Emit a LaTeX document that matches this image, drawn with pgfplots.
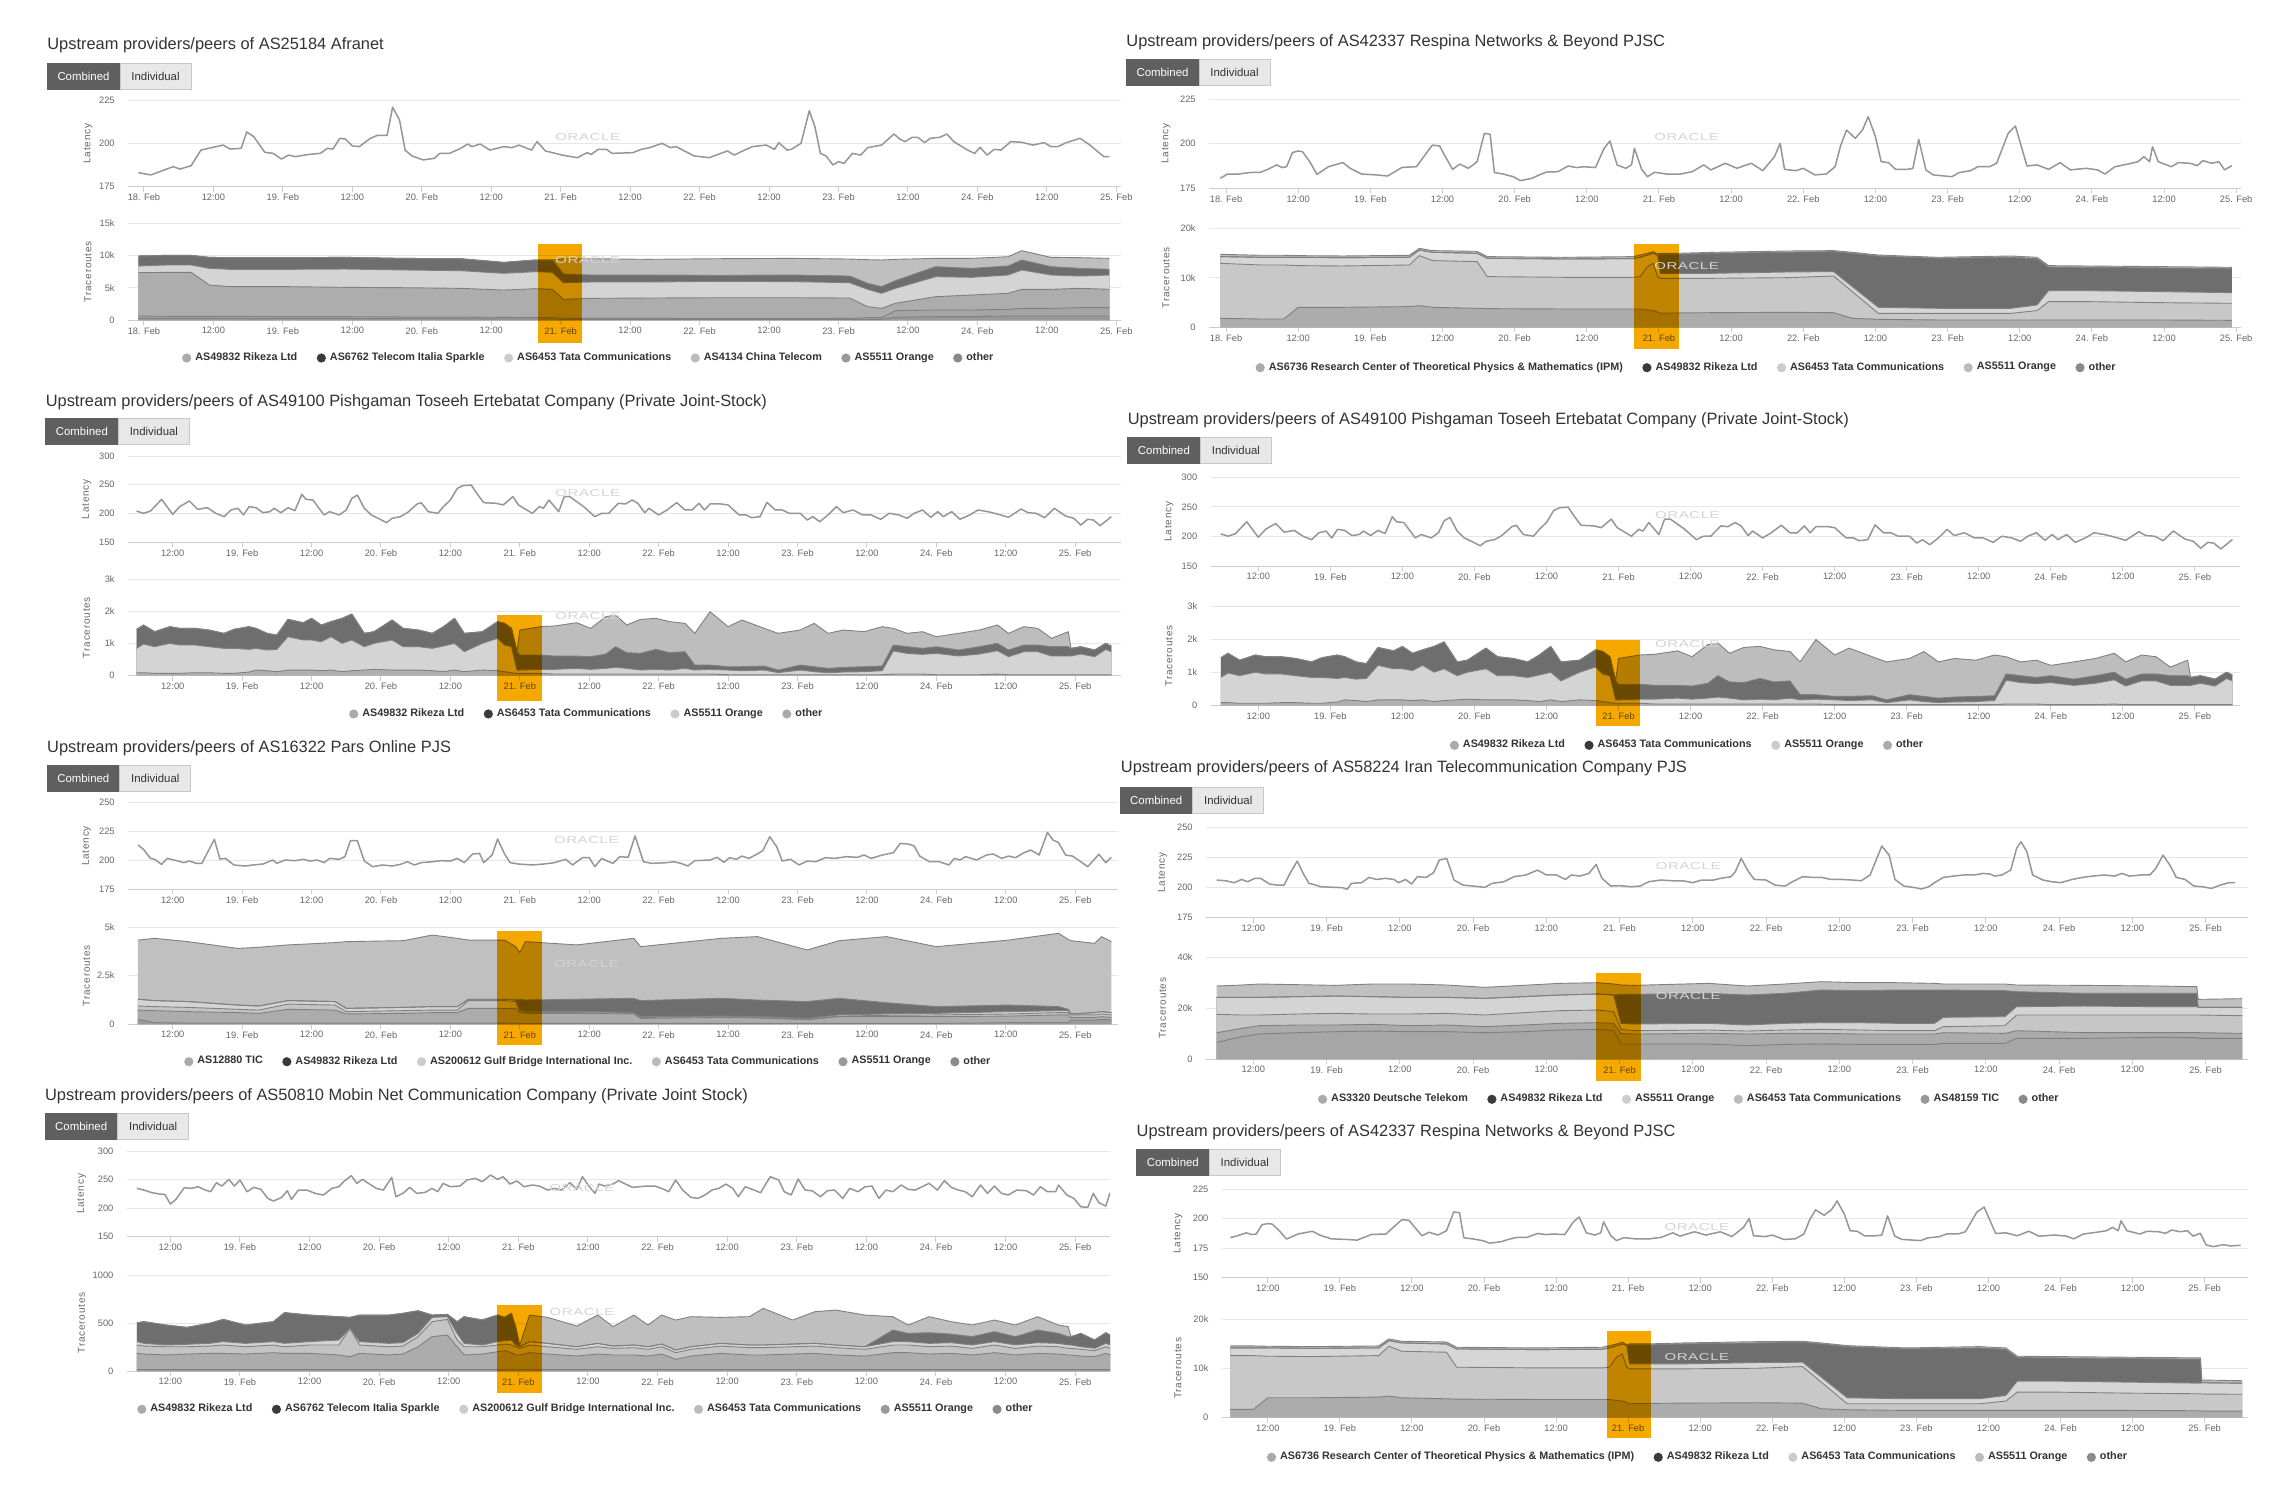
\documentclass[border=0pt]{standalone}
\usepackage{fontspec}
\setmainfont{Liberation Sans}
\newfontfamily\axfam{Liberation Sans}[LetterSpace=8]
\newfontfamily\orfam{Liberation Sans}[FakeStretch=1.5,LetterSpace=6]
\usepackage{pgfplots}
\pgfplotsset{compat=1.18}
\usepackage{pgfplotstable}

\definecolor{labc}{RGB}{102,102,102}
\definecolor{axisc}{RGB}{204,204,204}
\definecolor{gridc}{RGB}{230,230,230}
\definecolor{latc}{RGB}{150,150,150}
\definecolor{blc}{RGB}{128,128,128}
\definecolor{hlc}{RGB}{245,169,0}
\definecolor{orc}{RGB}{212,212,212}
\definecolor{legc}{RGB}{51,51,51}
\definecolor{ttlc}{RGB}{51,51,51}
\definecolor{btnd}{RGB}{95,95,95}
\definecolor{btnl}{RGB}{232,232,232}
\definecolor{btnb}{RGB}{200,200,200}
\definecolor{g6e}{RGB}{110,110,110}
\definecolor{gbf}{RGB}{191,191,191}
\definecolor{gbd}{RGB}{189,189,189}
\definecolor{gc0}{RGB}{192,192,192}
\definecolor{gd4}{RGB}{212,212,212}
\definecolor{gd6}{RGB}{214,214,214}
\definecolor{gad}{RGB}{173,173,173}
\definecolor{ga4}{RGB}{164,164,164}
\definecolor{g99}{RGB}{153,153,153}
\definecolor{gc8}{RGB}{200,200,200}
\definecolor{gac}{RGB}{172,172,172}
\definecolor{gb0}{RGB}{176,176,176}
\definecolor{gc4}{RGB}{196,196,196}
\definecolor{gc6}{RGB}{198,198,198}
\definecolor{gab}{RGB}{171,171,171}
\definecolor{ga6}{RGB}{166,166,166}
\definecolor{g9a}{RGB}{154,154,154}
\definecolor{mk1}{RGB}{170,170,170}
\definecolor{mk2}{RGB}{58,58,58}
\definecolor{mk3}{RGB}{204,204,204}
\definecolor{mk4}{RGB}{187,187,187}
\definecolor{mk5}{RGB}{153,153,153}
\definecolor{mk6}{RGB}{138,138,138}

\newcommand\tickf{\fontsize{4.65pt}{5.5pt}\selectfont}
\newcommand\axf{\axfam\fontsize{5pt}{6pt}\selectfont}
\newcommand\legf{\bfseries\fontsize{5.4pt}{6.2pt}\selectfont}
\newcommand\ttlf{\fontsize{8.2pt}{9.5pt}\selectfont}
\newcommand\btnf{\fontsize{5.7pt}{6.5pt}\selectfont}
\newcommand\orf{\orfam\fontsize{5pt}{6pt}\selectfont}
\newcommand\amp{\char38\relax}

\pgfplotsset{
 legend image code/.code={\fill[#1,draw=none] (0pt,0pt) circle (2.3pt);},
 pan/.style={
   scale only axis, anchor=north west,
   axis x line*=bottom, axis y line*=left,
   x axis line style={draw=axisc, line width=0.5pt, -},
   y axis line style={draw=none},
   ymajorgrids, major grid style={draw=gridc, line width=0.5pt},
   tick align=outside, major tick length=2.5pt,
   xtick style={draw=axisc, line width=0.5pt},
   ytick style={draw=none},
   tick label style={font=\tickf, text=labc},
   xticklabel style={inner sep=1pt},
   yticklabel style={inner sep=1pt, xshift=-3pt},
   every axis y label/.style={rotate=90, anchor=center, font=\axf, text=labc},
   /pgf/number format/assume math mode=true,
 },
 ylabx/.style={every axis y label/.append style={at={(axis description cs:#1,0.5)}}},
 trax/.style={pan, clip=false, ymin=0,
   legend style={draw=none, fill=none, anchor=center, legend columns=-1, font=\legf, text=legc,
     inner sep=0pt, /tikz/every even column/.append style={column sep=7.7pt}},
 },
 days1/.style={xtick={0,0.5,1,1.5,2,2.5,3,3.5,4,4.5,5,5.5,6,6.5,7},
   xticklabels={18. Feb,12:00,19. Feb,12:00,20. Feb,12:00,21. Feb,12:00,22. Feb,12:00,23. Feb,12:00,24. Feb,12:00,25. Feb}},
 days2/.style={xtick={0.5,1,1.5,2,2.5,3,3.5,4,4.5,5,5.5,6,6.5,7},
   xticklabels={12:00,19. Feb,12:00,20. Feb,12:00,21. Feb,12:00,22. Feb,12:00,23. Feb,12:00,24. Feb,12:00,25. Feb}},
 latline/.style={draw=latc, line width=0.75pt, line join=round, mark=none},
 bline/.style={draw=blc, line width=0.45pt, line join=round, mark=none},
}
\tikzset{
 hl/.style={fill=hlc, blend mode=multiply},
 oracle/.style={font=\orf, text=orc, inner sep=0pt},
}
\newcommand\ar[3]{\addplot[fill=#3,draw=none,forget plot] table[x=x,y=#2]{#1}\closedcycle;}
\newcommand\bl[2]{\addplot[bline,forget plot] table[x=x,y=#2]{#1};}
\newcommand\btns[2]{%
 \begin{scope}[xshift=#1*0.5pt, yshift=-#2*0.5pt, x=0.5pt, y=-0.5pt]
  \fill[btnd] (0,0) rectangle (73,26.5);
  \fill[btnl] (73,0) rectangle (144,26.5);
  \draw[btnb, line width=0.5pt] (73,0) rectangle (144,26.5);
  \node[font=\btnf, text=white, inner sep=0pt] at (36.5,13.5) {Combined};
  \node[font=\btnf, text=legc, inner sep=0pt] at (108.5,13.5) {Individual};
 \end{scope}}
\newcommand\ttl[3]{\node[anchor=base west, inner sep=0pt, font=\ttlf, text=ttlc] at (#1,#2) {#3};}

% ---------------- data ----------------
\pgfplotstableread{
x y
-0.04 183.1
0.05 181.8
0.21 186.6
0.26 185.2
0.34 187.2
0.41 196.2
0.52 198.2
0.57 199.1
0.62 196.8
0.70 197.2
0.74 206.7
0.79 204.0
0.87 194.9
0.93 194.3
0.99 191.0
1.04 193.3
1.09 192.4
1.19 193.7
1.27 194.3
1.32 197.2
1.36 196.8
1.41 203.0
1.45 202.6
1.50 198.6
1.55 198.2
1.63 203.0
1.68 204.7
1.75 204.7
1.79 221.0
1.84 213.6
1.88 196.2
1.93 192.8
2.01 190.5
2.09 191.4
2.13 194.3
2.20 194.3
2.28 197.2
2.33 199.7
2.36 198.2
2.42 199.7
2.49 196.2
2.59 198.2
2.65 197.6
2.70 199.1
2.79 196.2
2.83 201.1
2.89 195.7
3.01 193.3
3.12 191.8
3.19 194.7
3.22 193.7
3.27 196.6
3.33 196.6
3.37 194.3
3.52 194.7
3.58 196.6
3.64 197.6
3.73 200.1
3.79 197.6
3.83 198.2
3.91 194.9
3.96 192.8
4.07 191.8
4.12 193.3
4.20 195.7
4.25 193.3
4.30 195.3
4.38 198.2
4.48 199.1
4.54 196.6
4.57 200.5
4.63 196.2
4.66 196.6
4.73 200.1
4.79 219.0
4.83 209.8
4.87 194.3
4.91 192.8
4.96 187.6
5.00 189.5
5.04 188.5
5.10 194.3
5.16 193.3
5.21 197.6
5.31 199.1
5.40 205.5
5.44 202.6
5.48 201.1
5.53 203.6
5.57 203.6
5.62 200.5
5.66 203.0
5.73 203.6
5.78 205.5
5.83 201.1
5.93 196.2
5.98 194.3
6.02 197.8
6.07 193.3
6.12 196.6
6.17 196.2
6.24 201.1
6.32 200.7
6.40 199.1
6.48 200.5
6.53 198.2
6.58 198.2
6.64 200.5
6.74 203.0
6.81 199.1
6.91 192.4
6.95 192.4
}\latLa

\pgfplotstableread{
x c1 c2 c3 c4 c5 c6
-0.04 .26 .62 7.34 8.38 9.93 9.93
0.16 .26 .57 7.39 8.53 10.03 10.03
0.34 .26 .57 7.39 8.53 10.03 10.03
0.47 .26 .57 5.43 8.01 9.72 9.72
0.62 .21 .57 5.17 7.86 9.67 9.67
1.04 .21 .52 5.17 7.86 9.67 9.67
1.45 .21 .52 5.07 7.91 9.72 9.72
1.87 .21 .47 5.01 7.76 9.56 9.56
2.28 .21 .47 4.91 7.65 9.51 9.51
2.59 .16 .41 4.65 7.24 8.94 8.94
2.82 .16 .36 4.86 7.50 9.31 9.31
2.94 .16 .36 4.76 7.39 9.31 9.31
3.02 .10 .26 3.21 5.79 7.13 9.51
3.21 .10 .26 3.36 5.89 6.98 9.51
3.63 .10 .26 3.41 5.89 6.98 9.41
4.15 .10 .21 3.46 6.00 6.93 9.51
4.66 .10 .21 3.46 5.95 6.98 9.56
5.08 .10 .26 3.41 5.79 6.82 9.46
5.21 .10 .36 2.07 4.76 5.69 9.36
5.31 .10 .36 1.81 4.14 5.17 9.31
5.41 .41 1.45 2.59 4.91 6.10 9.41
5.70 .52 1.55 3.62 6.72 8.27 9.56
5.96 .52 1.55 3.88 6.62 8.01 9.56
6.22 .62 1.65 4.14 6.98 8.38 9.82
6.32 .62 1.81 4.76 7.76 9.31 10.75
6.53 .62 1.81 4.76 6.98 8.27 9.72
6.74 .62 1.91 4.91 6.82 8.01 9.67
6.95 .62 1.91 4.76 6.98 7.86 9.56
}\trLa

\pgfplotstableread{
x y
-0.04 180.6
0.01 183.0
0.09 183.0
0.16 183.8
0.24 184.0
0.29 185.6
0.35 188.1
0.39 186.6
0.42 187.1
0.46 195.0
0.50 195.9
0.53 195.5
0.58 189.9
0.63 182.8
0.71 187.1
0.81 189.4
0.86 186.2
0.94 183.0
1.04 182.5
1.12 181.9
1.22 186.7
1.32 187.1
1.37 192.7
1.43 199.2
1.48 198.7
1.52 192.7
1.57 185.6
1.62 188.6
1.68 186.2
1.74 189.9
1.79 205.8
1.83 205.2
1.86 183.8
1.92 183.0
1.99 181.5
2.04 179.3
2.12 180.6
2.17 182.5
2.22 184.1
2.30 184.3
2.37 187.5
2.43 186.6
2.48 187.1
2.56 186.6
2.62 197.4
2.66 201.5
2.71 188.1
2.77 186.2
2.81 188.1
2.83 197.4
2.88 185.6
2.92 181.5
2.97 184.0
3.05 183.0
3.15 183.0
3.23 184.3
3.31 188.1
3.36 185.3
3.46 189.0
3.54 186.2
3.64 189.0
3.72 184.9
3.80 192.7
3.84 200.2
3.87 185.6
3.95 184.9
4.00 186.2
4.08 182.5
4.16 183.0
4.22 187.1
4.26 199.2
4.30 207.6
4.36 203.0
4.41 207.6
4.45 215.1
4.50 203.9
4.54 189.9
4.59 189.4
4.64 185.6
4.72 185.6
4.76 186.2
4.80 202.4
4.85 185.3
4.90 182.5
5.03 181.5
5.08 183.8
5.16 184.9
5.21 187.1
5.29 187.1
5.34 189.0
5.42 205.8
5.47 209.9
5.55 187.5
5.62 188.1
5.70 185.6
5.78 189.4
5.85 185.3
5.96 186.2
6.04 185.3
6.09 183.0
6.16 187.1
6.24 188.4
6.32 189.9
6.36 192.7
6.40 189.9
6.42 198.3
6.46 189.9
6.55 187.1
6.60 189.4
6.68 189.0
6.73 187.7
6.77 190.5
6.83 189.0
6.88 189.9
6.92 185.3
6.97 187.7
7.01 177.8
7.06 176.4
7.13 178.0
7.18 177.0
7.25 177.5
}\latRa

\pgfplotstableread{
x c1 c2 c3 c4 c5
-0.04 1.82 12.93 14.28 14.28 14.75
0.24 1.68 12.59 14.14 14.14 14.55
0.40 1.68 12.59 14.14 14.14 14.55
0.50 4.04 12.46 14.14 14.14 14.48
0.81 4.04 12.39 14.07 14.07 14.41
1.27 4.18 12.59 14.14 14.14 14.55
1.34 4.38 14.48 15.62 15.62 15.96
1.43 4.04 13.47 15.15 15.15 15.49
1.74 3.84 13.27 14.95 14.95 15.35
1.81 3.77 10.24 13.94 13.94 14.28
2.35 3.70 10.10 13.80 13.80 14.14
2.82 3.70 10.10 13.87 13.87 14.28
2.87 3.70 10.24 14.14 14.14 14.61
2.92 3.50 12.26 14.61 14.61 14.95
2.96 3.37 12.93 14.95 14.95 15.29
2.99 3.10 10.24 14.61 14.61 14.81
3.01 2.83 9.90 10.91 14.75 14.95
3.13 2.90 9.90 10.91 14.75 14.95
3.38 2.96 9.90 10.91 14.95 15.15
3.90 3.03 10.03 11.18 15.15 15.42
4.21 2.96 10.37 11.25 15.29 15.49
4.34 1.82 7.21 8.22 14.95 15.15
4.52 1.62 2.83 4.04 14.41 14.61
4.93 1.48 2.83 3.84 13.94 14.14
5.44 1.48 2.83 3.84 14.14 14.41
5.62 1.48 3.37 4.51 13.87 14.14
5.70 1.48 5.19 7.41 12.19 12.46
5.96 1.48 5.19 7.41 12.12 12.39
6.47 1.48 4.98 7.21 11.99 12.26
6.97 1.41 4.85 7.00 11.85 12.12
6.98 1.35 4.80 7.09 7.09 7.64
7.26 1.35 4.75 7.00 7.00 7.50
}\trRa

\pgfplotstableread{
x y
0.24 204.4
0.29 200.4
0.34 204.4
0.42 224.7
0.50 198.6
0.55 212.0
0.62 221.8
0.68 207.3
0.75 210.2
0.81 200.4
0.87 194.6
0.92 206.2
0.97 209.1
1.01 197.5
1.05 212.0
1.10 210.2
1.15 201.5
1.20 203.3
1.23 209.1
1.28 201.5
1.33 210.2
1.38 205.0
1.43 233.4
1.46 224.7
1.51 223.5
1.59 197.5
1.63 203.3
1.70 197.5
1.75 206.2
1.79 226.4
1.83 232.2
1.88 209.1
1.93 197.5
1.98 191.7
2.04 184.2
2.08 191.7
2.14 194.6
2.19 201.5
2.26 216.6
2.29 218.9
2.34 203.3
2.41 200.4
2.45 212.0
2.50 223.5
2.55 243.8
2.59 248.5
2.65 249.6
2.69 235.1
2.74 218.9
2.83 217.8
2.88 214.9
2.95 229.3
2.99 214.9
3.09 200.4
3.14 212.0
3.17 209.1
3.21 223.5
3.28 203.3
3.32 229.3
3.36 229.3
3.46 212.0
3.54 194.6
3.59 200.4
3.64 200.4
3.71 217.8
3.76 216.6
3.81 223.5
3.85 217.8
3.90 201.5
3.93 209.1
4.00 197.5
4.06 206.2
4.13 218.9
4.19 206.2
4.24 206.2
4.29 217.8
4.33 206.2
4.37 216.6
4.45 216.6
4.50 214.9
4.58 197.5
4.63 197.5
4.67 192.8
4.73 194.6
4.78 219.5
4.84 206.2
4.89 206.2
4.94 200.4
5.02 200.4
5.07 188.8
5.11 194.6
5.16 185.9
5.22 197.5
5.28 212.0
5.33 201.5
5.40 206.2
5.47 197.5
5.53 197.5
5.60 190.0
5.66 200.4
5.73 197.5
5.79 191.7
5.84 200.4
5.90 206.2
5.96 193.5
6.01 203.3
6.05 194.6
6.11 203.3
6.17 190.0
6.24 197.5
6.30 206.2
6.37 203.3
6.42 200.4
6.52 193.5
6.61 207.9
6.66 201.5
6.72 200.4
6.78 192.8
6.85 209.1
6.93 195.8
6.99 191.7
7.04 180.1
7.09 190.0
7.13 188.8
7.18 178.9
7.26 194.6
}\latLb

\pgfplotstableread{
x c1 c2 c3 c4
0.24 .093 .851 1.443 1.443
0.29 .093 .986 1.578 1.578
0.37 .073 .903 1.370 1.370
0.48 .073 1.007 1.526 1.526
0.55 .073 .955 1.474 1.474
0.66 .093 .955 1.474 1.474
0.76 .093 .903 1.422 1.422
0.87 .073 .851 1.318 1.318
0.94 .073 .851 1.443 1.443
1.05 .114 .820 1.526 1.526
1.10 .176 .851 1.474 1.474
1.18 .156 .799 1.318 1.318
1.25 .125 .820 1.266 1.266
1.33 .176 1.214 1.754 1.754
1.44 .176 1.111 1.650 1.650
1.50 .176 1.111 1.785 1.785
1.57 .156 1.059 1.578 1.578
1.64 .176 1.214 1.682 1.682
1.72 .125 1.007 1.785 1.785
1.79 .156 1.111 1.920 1.920
1.88 .176 .903 1.318 1.318
1.95 .197 1.007 1.370 1.370
2.08 .176 1.111 1.733 1.733
2.16 .176 .903 1.474 1.474
2.27 .176 .903 1.422 1.422
2.37 .156 .851 1.318 1.318
2.45 .125 .924 1.526 1.526
2.53 .176 1.007 1.785 1.785
2.60 .125 .747 1.318 1.318
2.73 .176 1.007 1.370 1.370
2.84 .156 1.163 1.682 1.682
2.89 .125 .955 1.630 1.630
2.94 .093 .903 1.474 1.474
2.98 .073 .176 .747 .747
3.00 .073 .176 .644 1.422
3.15 .073 .197 .644 1.526
3.25 .052 .197 .612 1.547
3.41 .052 .228 .612 1.650
3.51 .052 .197 .592 1.474
3.62 .052 .228 .675 1.837
3.69 .052 .260 .903 1.889
3.77 .052 .228 .716 1.578
3.87 .052 .176 .695 1.754
3.98 .052 .197 .820 1.785
4.08 .052 .176 .716 1.682
4.19 .052 .228 .747 1.630
4.26 .052 .176 .332 1.318
4.37 .052 .197 .332 1.993
4.50 .031 .176 .280 1.526
4.60 .031 .156 .280 1.733
4.76 .031 .176 .301 1.474
4.86 .031 .093 .176 1.318
5.02 .031 .176 .332 1.422
5.12 .031 .125 .280 1.630
5.22 .031 .093 .228 1.318
5.33 .031 .114 .260 1.422
5.48 .031 .125 .280 1.370
5.61 .031 .156 .301 1.526
5.69 .052 .768 .955 1.474
5.79 .052 .695 .903 1.318
5.90 .052 .664 .851 1.370
6.00 .031 .695 .903 1.214
6.16 .031 .612 .799 1.318
6.31 .031 .675 .903 1.422
6.44 .052 .778 1.007 1.578
6.52 .031 .592 .799 1.318
6.63 .031 .747 .955 1.526
6.73 .031 .747 .955 1.474
6.83 .031 .612 .903 1.163
6.95 .031 .612 .903 1.370
6.97 .031 .612 .851 .851
7.04 .031 .675 .903 .903
7.14 .031 .592 .799 .799
7.22 .031 .820 1.007 1.007
7.26 .031 .747 .924 .924
}\trLb

\pgfplotstableread{
x y
0.25 213.4
0.29 209.6
0.34 201.8
0.37 201.0
0.42 196.6
0.46 201.8
0.53 199.8
0.58 198.1
0.62 199.5
0.67 197.5
0.71 197.5
0.76 209.0
0.80 218.3
0.84 201.2
0.88 201.8
0.94 196.1
1.02 195.2
1.08 196.1
1.15 196.9
1.22 200.4
1.25 197.5
1.31 200.4
1.38 199.8
1.44 201.0
1.49 199.5
1.54 200.4
1.59 198.1
1.63 201.8
1.70 201.0
1.74 203.3
1.78 217.1
1.83 217.1
1.88 199.5
1.94 194.6
2.01 196.1
2.08 195.2
2.14 196.6
2.19 198.9
2.24 196.1
2.29 198.1
2.37 198.9
2.43 199.8
2.50 199.5
2.55 201.8
2.60 198.1
2.66 205.6
2.71 206.1
2.74 198.1
2.80 204.7
2.84 218.6
2.89 205.6
2.93 198.1
2.99 196.9
3.09 196.1
3.17 196.9
3.25 198.1
3.33 201.0
3.38 196.1
3.45 202.4
3.50 202.4
3.54 194.6
3.59 201.8
3.63 199.5
3.67 197.5
3.72 203.3
3.78 202.7
3.83 221.2
3.89 198.9
3.95 197.5
4.06 198.1
4.11 198.9
4.16 197.5
4.21 195.2
4.26 199.8
4.37 200.4
4.42 202.7
4.47 198.4
4.51 202.4
4.56 201.0
4.60 203.8
4.65 201.8
4.71 205.6
4.75 208.5
4.80 220.6
4.85 211.9
4.89 199.5
4.95 201.0
5.01 196.1
5.07 199.5
5.13 198.9
5.20 202.4
5.27 201.8
5.35 203.3
5.43 202.7
5.48 204.7
5.53 201.8
5.61 204.7
5.69 206.7
5.74 214.8
5.80 214.2
5.84 212.5
5.88 203.8
5.95 198.9
6.02 198.9
6.09 196.1
6.13 201.8
6.17 200.4
6.21 203.3
6.29 200.4
6.36 204.7
6.41 205.6
6.47 201.8
6.52 203.8
6.57 202.4
6.63 206.7
6.68 209.0
6.74 204.7
6.80 224.3
6.84 217.7
6.88 215.4
6.93 204.7
6.98 203.8
7.04 198.9
7.09 194.6
7.17 205.3
7.22 198.1
7.26 202.7
}\latLc

\pgfplotstableread{
x c1 c2 c3 c4 c5 c6
0.25 .24 .72 .93 1.28 1.28 4.34
0.37 .07 .69 .90 1.21 1.21 4.43
0.61 .05 .64 .86 1.16 1.16 4.26
0.97 .05 .59 .76 .98 .98 3.91
1.12 .05 .55 .72 .93 .93 3.97
1.33 .05 .76 1.03 1.21 1.21 4.09
1.67 .05 .72 .98 1.16 1.16 4.21
1.75 .05 .52 .64 .81 .81 4.26
2.16 .05 .55 .69 .86 .86 4.31
2.37 .05 .59 .72 .90 .90 4.60
2.55 .05 .59 .72 .90 .90 4.43
2.63 .05 .81 1.21 1.28 1.28 4.34
2.89 .05 .81 1.21 1.28 1.28 4.34
2.97 .05 .81 1.16 1.24 1.24 4.00
3.00 .03 .59 .64 .69 1.28 3.69
3.04 .03 .55 .59 .64 1.24 4.26
3.41 .03 .55 .59 .64 1.28 4.09
3.82 .03 .52 .55 .59 1.33 4.43
3.87 .03 .29 .34 .38 1.21 4.00
4.45 .03 .34 .38 .41 1.33 4.43
4.71 .03 .31 .34 .38 1.24 4.52
5.07 .03 .22 .26 .29 1.16 3.83
5.30 .03 .38 .41 .47 1.33 4.31
5.64 .03 .38 .45 .52 1.10 4.52
6.00 .03 .38 .47 .55 .90 4.00
6.52 .07 .41 .52 .64 .98 4.34
6.88 .07 .47 .59 .69 .90 4.69
6.95 .07 .47 .59 .69 .76 4.37
6.97 .21 .34 .47 .52 .52 4.31
7.14 .21 .34 .47 .59 .59 4.17
7.19 .24 .38 .52 .64 .64 4.52
7.26 .21 .34 .47 .59 .59 4.26
}\trLc

\pgfplotstableread{
x y
0.25 206.4
0.31 205.8
0.37 204.2
0.42 206.9
0.46 205.0
0.51 207.8
0.55 207.8
0.61 203.1
0.66 202.2
0.71 202.2
0.75 211.9
0.80 222.2
0.84 211.9
0.88 203.6
0.91 202.8
0.96 200.8
1.06 200.3
1.11 200.0
1.14 198.6
1.17 203.6
1.24 204.2
1.29 208.6
1.34 206.9
1.40 207.8
1.46 206.9
1.49 204.2
1.54 206.9
1.58 203.1
1.62 209.2
1.68 208.6
1.73 212.5
1.77 223.1
1.82 224.4
1.87 206.4
1.93 202.2
2.00 201.4
2.08 200.3
2.13 203.6
2.21 205.0
2.28 209.2
2.36 210.6
2.44 214.7
2.50 210.6
2.57 210.6
2.63 206.9
2.67 210.6
2.73 209.7
2.79 211.9
2.84 219.4
2.88 207.8
2.94 201.4
3.00 201.7
3.08 200.8
3.14 201.4
3.20 205.0
3.28 206.4
3.36 205.8
3.43 205.8
3.50 204.2
3.56 206.4
3.64 206.4
3.69 207.8
3.76 209.2
3.79 213.3
3.83 224.4
3.88 213.3
3.92 206.9
4.00 206.4
4.06 202.2
4.13 201.4
4.18 205.0
4.25 209.2
4.32 208.6
4.38 208.6
4.44 206.9
4.51 206.9
4.59 206.4
4.65 205.8
4.71 210.6
4.79 234.7
4.84 227.2
4.88 206.9
4.94 201.4
5.02 200.0
5.06 198.9
5.11 200.8
5.15 204.2
5.21 208.6
5.28 209.7
5.35 210.6
5.42 210.6
5.48 211.9
5.53 211.4
5.56 209.7
5.61 210.6
5.67 214.7
5.71 232.8
5.74 238.3
5.78 230.0
5.82 210.6
5.89 206.4
5.95 205.0
6.01 204.2
6.09 206.9
6.16 208.6
6.23 209.7
6.31 210.6
6.38 209.7
6.43 211.9
6.48 209.7
6.56 210.6
6.62 210.6
6.66 216.1
6.71 227.2
6.76 218.1
6.80 208.6
6.86 206.9
6.92 201.4
6.98 200.8
7.04 199.4
7.10 202.2
7.16 204.2
7.20 204.2
}\latRc

\pgfplotstableread{
x c1 c2 c3 c4 c5 c6
0.25 6.56 10.36 17.57 24.25 24.25 28.71
0.42 8.78 12.06 17.31 24.25 24.25 29.10
0.54 9.83 13.11 17.31 24.25 24.25 29.50
0.80 10.36 13.37 17.70 24.52 24.52 29.24
1.06 10.75 13.37 17.96 24.78 24.78 28.97
1.31 11.01 13.63 17.70 24.52 24.52 29.50
1.57 10.75 13.11 17.70 24.25 24.25 29.50
1.82 10.75 13.37 17.96 24.25 24.25 29.10
2.08 10.36 12.72 17.31 23.86 23.86 28.19
2.34 10.75 13.37 18.22 24.52 24.52 28.97
2.59 11.41 14.03 19.01 25.17 25.17 29.76
2.85 11.67 14.29 19.27 25.56 25.56 30.02
2.96 11.14 14.03 18.62 25.17 25.17 29.50
3.01 5.90 10.09 11.67 14.03 25.43 29.10
3.10 5.90 9.83 11.14 13.77 25.43 28.97
3.61 5.90 10.09 11.41 14.03 25.83 29.76
3.87 5.24 9.83 11.01 13.37 25.17 28.71
4.13 5.77 10.09 11.41 14.03 25.83 29.50
4.38 5.90 10.09 11.67 14.29 27.14 30.42
4.64 5.77 9.83 11.41 14.29 26.88 30.02
4.89 5.77 9.83 11.14 14.03 27.14 30.02
5.15 5.77 9.83 11.14 14.03 27.14 29.76
5.21 6.16 10.36 12.72 16.39 27.14 29.50
5.63 6.16 10.09 13.11 16.65 26.88 29.50
5.71 8.13 11.14 17.31 20.58 26.48 29.10
6.17 8.13 10.36 17.31 20.84 25.83 28.97
6.68 8.52 10.36 17.31 20.58 25.83 28.71
6.94 8.39 10.36 17.31 20.58 25.83 28.45
6.95 8.13 10.36 17.31 20.32 20.32 23.47
7.25 8.13 10.09 17.04 20.32 20.32 23.73
}\trRc

\pgfplotstableread{
x y
0.26 234.6
0.31 231.7
0.36 227.6
0.42 224.7
0.46 224.1
0.50 207.2
0.54 215.4
0.60 235.8
0.65 234.6
0.70 237.5
0.75 231.7
0.79 228.8
0.83 244.5
0.87 238.7
0.92 250.4
0.96 238.7
1.00 249.2
1.05 228.8
1.10 236.4
1.15 233.0
1.20 217.1
1.24 212.4
1.30 218.9
1.34 230.5
1.37 215.4
1.42 231.7
1.48 231.7
1.54 225.9
1.60 223.0
1.66 234.6
1.71 237.5
1.75 247.5
1.80 256.8
1.84 243.4
1.88 250.4
1.93 242.2
1.98 234.6
2.03 231.7
2.09 253.9
2.12 220.0
2.17 225.9
2.22 236.4
2.27 225.9
2.33 227.6
2.38 234.6
2.42 228.8
2.46 243.4
2.51 237.5
2.58 238.7
2.63 249.2
2.69 252.1
2.74 246.3
2.80 257.9
2.85 250.4
2.89 254.9
2.94 242.2
2.99 247.5
3.04 237.5
3.10 240.5
3.15 238.7
3.21 231.7
3.26 234.6
3.31 231.7
3.37 244.5
3.42 232.9
3.46 255.1
3.51 237.5
3.55 225.9
3.58 242.2
3.62 238.7
3.68 242.2
3.72 248.1
3.77 242.2
3.82 236.4
3.87 237.5
3.92 238.7
3.98 238.7
4.03 234.6
4.08 228.8
4.13 249.2
4.18 231.7
4.24 218.9
4.29 217.1
4.34 223.0
4.39 231.7
4.44 234.6
4.49 242.2
4.54 234.6
4.58 220.0
4.63 237.5
4.68 232.9
4.74 227.0
4.78 243.4
4.81 255.1
4.87 249.2
4.91 228.8
4.96 223.0
5.01 251.0
5.06 231.7
5.11 230.5
5.17 220.0
5.22 230.5
5.27 231.7
5.33 217.1
5.38 234.6
5.44 228.8
5.49 237.5
5.54 238.7
5.59 217.1
5.64 231.7
5.69 228.8
5.75 240.5
5.80 232.9
5.85 231.7
5.90 237.5
5.95 243.4
6.01 231.7
6.06 248.1
6.11 236.4
6.16 231.7
6.21 228.8
6.26 220.0
6.32 240.5
6.37 225.9
6.42 238.7
6.47 225.9
6.52 223.0
6.58 231.7
6.65 230.5
6.70 223.0
6.75 237.5
6.80 228.8
6.86 228.8
6.88 240.5
6.94 223.0
6.99 217.1
7.04 202.5
7.09 201.4
7.13 225.9
7.17 209.5
7.22 203.7
7.25 227.0
}\latLd

\pgfplotstableread{
x c1 c2 c3 c4 c5 c6
0.26 17 184 271 306 503 503
0.31 17 177 260 288 514 514
0.47 17 167 253 271 479 479
0.62 17 177 253 278 455 455
0.78 17 184 260 288 497 497
0.88 17 184 271 306 538 538
1.04 17 177 253 288 479 479
1.24 17 191 271 306 514 514
1.32 17 184 253 288 608 608
1.50 17 184 271 306 583 583
1.71 17 167 271 323 566 566
1.79 17 149 444 444 559 559
1.86 17 184 271 306 583 583
2.07 17 167 253 288 583 583
2.17 17 177 260 295 601 601
2.28 17 253 358 392 628 628
2.38 17 358 514 559 583 583
2.49 17 375 538 566 590 590
2.56 17 253 323 392 514 514
2.61 17 167 253 288 566 566
2.74 17 177 253 271 532 532
2.85 17 201 271 306 583 583
2.90 17 212 281 316 559 559
2.95 17 191 271 323 601 601
2.98 17 167 253 271 462 462
3.01 17 167 236 253 253 271
3.08 17 191 271 306 306 583
3.21 17 177 253 288 288 559
3.42 17 156 226 253 253 469
3.57 17 177 253 288 288 583
3.68 17 167 236 260 260 462
3.83 17 167 243 271 271 583
3.93 17 156 226 253 253 479
4.03 17 177 253 281 281 583
4.13 17 122 191 219 219 531
4.24 17 156 226 253 253 566
4.45 17 184 260 288 288 559
4.66 17 167 243 271 271 566
4.76 17 167 243 271 271 653
4.97 17 177 253 281 281 531
5.13 17 184 260 288 288 618
5.28 17 167 243 271 271 635
5.49 17 156 226 253 253 583
5.69 17 191 271 306 427 566
5.80 17 191 271 306 392 479
5.95 17 177 253 288 399 566
6.11 17 184 260 295 385 514
6.26 17 167 236 271 358 479
6.42 17 191 271 306 410 531
6.57 17 167 236 271 358 479
6.73 17 184 260 295 427 566
6.88 17 177 253 288 392 479
6.95 17 167 236 271 358 462
6.97 17 167 236 271 358 358
7.04 17 156 226 253 392 392
7.14 17 149 212 236 323 323
7.22 17 184 253 288 399 399
7.25 17 167 236 271 375 375
}\trLd

\begin{document}
\begin{tikzpicture}
\path[use as bounding box] (0,0) rectangle (1142.5pt,-750.5pt);
\fill[white] (0,0) rectangle (1142.5pt,-750.5pt);

% titles
\ttl{23.5pt}{-24.65pt}{Upstream providers/peers of AS25184 Afranet}
\ttl{563pt}{-23pt}{Upstream providers/peers of AS42337 Respina Networks \& Beyond PJSC}
\ttl{22.7pt}{-203pt}{Upstream providers/peers of AS49100 Pishgaman Toseeh Ertebatat Company (Private Joint-Stock)}
\ttl{563.7pt}{-212.15pt}{Upstream providers/peers of AS49100 Pishgaman Toseeh Ertebatat Company (Private Joint-Stock)}
\ttl{23.4pt}{-376.35pt}{Upstream providers/peers of AS16322 Pars Online PJS}
\ttl{560.25pt}{-386.35pt}{Upstream providers/peers of AS58224 Iran Telecommunication Company PJS}
\ttl{22.35pt}{-550.35pt}{Upstream providers/peers of AS50810 Mobin Net Communication Company (Private Joint Stock)}
\ttl{568.15pt}{-568pt}{Upstream providers/peers of AS42337 Respina Networks \& Beyond PJSC}

% buttons
\btns{47}{63.3}
\btns{1126}{59.3}
\btns{45.4}{418.3}
\btns{1127.4}{437.3}
\btns{46.8}{765}
\btns{1119.7}{787.3}
\btns{44.7}{1113.3}
\btns{1136.3}{1149}

% ===== L1 =====
\begin{axis}[pan, at={(64pt,-50.15pt)}, width=496.5pt, height=43.2pt,
  xmin=-0.115, xmax=7.034, days1, ymin=175, ymax=225, ytick={175,200,225}, yticklabels={175,200,225},
  ylabel={Latency}, ylabx=-0.0403]
 \addplot[latline] table[x=x,y=y]{\latLa};
 \node[oracle] at (axis description cs:0.463,0.572) {ORACLE};
\end{axis}
\begin{axis}[trax, at={(64pt,-111.65pt)}, width=496.5pt, height=48.35pt,
  xmin=-0.115, xmax=7.034, days1, ymax=15, ytick={0,5,10,15}, yticklabels={0,5k,10k,15k},
  ylabel={Traceroutes}, ylabx=-0.0403, legend style={at={(0.465,-0.393)}}]
 \ar{\trLa}{c6}{gbf}\ar{\trLa}{c5}{g6e}\ar{\trLa}{c4}{gd4}\ar{\trLa}{c3}{gad}\ar{\trLa}{c2}{ga4}\ar{\trLa}{c1}{g99}
 \bl{\trLa}{c1}\bl{\trLa}{c2}\bl{\trLa}{c3}\bl{\trLa}{c4}\bl{\trLa}{c5}\bl{\trLa}{c6}
 \fill[hl] (axis cs:2.834,11.79) rectangle (axis cs:3.155,-3.57);
 \node[oracle] at (axis description cs:0.463,0.617) {ORACLE};
 \addlegendimage{fill=mk1}\addlegendentry{AS49832 Rikeza Ltd}
 \addlegendimage{fill=mk2}\addlegendentry{AS6762 Telecom Italia Sparkle}
 \addlegendimage{fill=mk3}\addlegendentry{AS6453 Tata Communications}
 \addlegendimage{fill=mk4}\addlegendentry{AS4134 China Telecom}
 \addlegendimage{fill=mk5}\addlegendentry{AS5511 Orange}
 \addlegendimage{fill=mk6}\addlegendentry{other}
\end{axis}

% ===== R1 =====
\begin{axis}[pan, at={(604.5pt,-49.5pt)}, width=515.75pt, height=44.65pt,
  xmin=-0.118, xmax=7.03, days1, ymin=175, ymax=225, ytick={175,200,225}, yticklabels={175,200,225},
  ylabel={Latency}, ylabx=-0.0417, restrict x to domain=-1:6.975]
 \addplot[latline] table[x=x,y=y]{\latRa};
 \node[oracle] at (axis description cs:0.463,0.572) {ORACLE};
\end{axis}
\begin{axis}[trax, at={(604.5pt,-114.15pt)}, width=515.75pt, height=49.5pt,
  xmin=-0.118, xmax=7.03, days1, ymax=20, ytick={0,10,20}, yticklabels={0,10k,20k},
  ylabel={Traceroutes}, ylabx=-0.0417, restrict x to domain=-1:6.975, legend style={at={(0.464,-0.408)}}]
 \ar{\trRa}{c5}{gbd}\ar{\trRa}{c4}{g6e}\ar{\trRa}{c3}{gd6}\ar{\trRa}{c2}{gc8}\ar{\trRa}{c1}{gac}
 \bl{\trRa}{c1}\bl{\trRa}{c2}\bl{\trRa}{c3}\bl{\trRa}{c4}\bl{\trRa}{c5}
 \fill[hl] (axis cs:2.826,16.83) rectangle (axis cs:3.138,-4.32);
 \node[oracle] at (axis description cs:0.463,0.617) {ORACLE};
 \addlegendimage{fill=mk1}\addlegendentry{AS6736 Research Center of Theoretical Physics \amp{} Mathematics (IPM)}
 \addlegendimage{fill=mk2}\addlegendentry{AS49832 Rikeza Ltd}
 \addlegendimage{fill=mk3}\addlegendentry{AS6453 Tata Communications}
 \addlegendimage{fill=mk4}\addlegendentry{AS5511 Orange}
 \addlegendimage{fill=mk6}\addlegendentry{other}
\end{axis}

% ===== L2 =====
\begin{axis}[pan, at={(64pt,-228pt)}, width=496.5pt, height=43.15pt,
  xmin=0.178, xmax=7.33, days2, ymin=150, ymax=300, ytick={150,200,250,300}, yticklabels={150,200,250,300},
  ylabel={Latency}, ylabx=-0.0418]
 \addplot[latline] table[x=x,y=y]{\latLb};
 \node[oracle] at (axis description cs:0.463,0.572) {ORACLE};
\end{axis}
\begin{axis}[trax, at={(64pt,-289.65pt)}, width=496.5pt, height=48.2pt,
  xmin=0.178, xmax=7.33, days2, ymax=3, ytick={0,1,2,3}, yticklabels={0,1k,2k,3k},
  ylabel={Traceroutes}, ylabx=-0.0418, legend style={at={(0.463,-0.397)}}]
 \ar{\trLb}{c4}{gbd}\ar{\trLb}{c3}{g6e}\ar{\trLb}{c2}{gd4}\ar{\trLb}{c1}{gb0}
 \bl{\trLb}{c1}\bl{\trLb}{c2}\bl{\trLb}{c3}\bl{\trLb}{c4}
 \fill[hl] (axis cs:2.838,1.889) rectangle (axis cs:3.160,-0.778);
 \node[oracle] at (axis description cs:0.463,0.617) {ORACLE};
 \addlegendimage{fill=mk1}\addlegendentry{AS49832 Rikeza Ltd}
 \addlegendimage{fill=mk2}\addlegendentry{AS6453 Tata Communications}
 \addlegendimage{fill=mk3}\addlegendentry{AS5511 Orange}
 \addlegendimage{fill=mk1}\addlegendentry{other}
\end{axis}

% ===== R2 =====
\begin{axis}[pan, at={(605.3pt,-238.65pt)}, width=514.9pt, height=44.35pt,
  xmin=0.169, xmax=7.316, days2, ymin=150, ymax=300, ytick={150,200,250,300}, yticklabels={150,200,250,300},
  ylabel={Latency}, ylabx=-0.0404]
 \addplot[latline] table[x=x,y=y]{\latLb};
 \node[oracle] at (axis description cs:0.463,0.572) {ORACLE};
\end{axis}
\begin{axis}[trax, at={(605.3pt,-303pt)}, width=514.9pt, height=49.85pt,
  xmin=0.169, xmax=7.316, days2, ymax=3, ytick={0,1,2,3}, yticklabels={0,1k,2k,3k},
  ylabel={Traceroutes}, ylabx=-0.0404, legend style={at={(0.464,-0.397)}}]
 \ar{\trLb}{c4}{gbd}\ar{\trLb}{c3}{g6e}\ar{\trLb}{c2}{gd4}\ar{\trLb}{c1}{gb0}
 \bl{\trLb}{c1}\bl{\trLb}{c2}\bl{\trLb}{c3}\bl{\trLb}{c4}
 \fill[hl] (axis cs:2.846,1.977) rectangle (axis cs:3.149,-0.602);
 \node[oracle] at (axis description cs:0.463,0.617) {ORACLE};
 \addlegendimage{fill=mk1}\addlegendentry{AS49832 Rikeza Ltd}
 \addlegendimage{fill=mk2}\addlegendentry{AS6453 Tata Communications}
 \addlegendimage{fill=mk3}\addlegendentry{AS5511 Orange}
 \addlegendimage{fill=mk1}\addlegendentry{other}
\end{axis}

% ===== L3 =====
\begin{axis}[pan, at={(64pt,-401.35pt)}, width=495pt, height=43.3pt,
  xmin=0.178, xmax=7.308, days2, ymin=175, ymax=250, ytick={175,200,225,250}, yticklabels={175,200,225,250},
  ylabel={Latency}, ylabx=-0.0419]
 \addplot[latline] table[x=x,y=y]{\latLc};
 \node[oracle] at (axis description cs:0.463,0.572) {ORACLE};
\end{axis}
\begin{axis}[trax, at={(64pt,-463.65pt)}, width=495pt, height=48.35pt,
  xmin=0.178, xmax=7.308, days2, ymax=5, ytick={0,2.5,5}, yticklabels={0,2.5k,5k},
  ylabel={Traceroutes}, ylabx=-0.0419, legend style={at={(0.466,-0.390)}}]
 \ar{\trLc}{c6}{gc0}\ar{\trLc}{c5}{g6e}\ar{\trLc}{c4}{gd4}\ar{\trLc}{c3}{gc4}\ar{\trLc}{c2}{gac}\ar{\trLc}{c1}{g9a}
 \bl{\trLc}{c1}\bl{\trLc}{c2}\bl{\trLc}{c3}\bl{\trLc}{c4}\bl{\trLc}{c5}\bl{\trLc}{c6}
 \fill[hl] (axis cs:2.838,4.793) rectangle (axis cs:3.160,-1.086);
 \node[oracle] at (axis description cs:0.463,0.617) {ORACLE};
 \addlegendimage{fill=mk1}\addlegendentry{AS12880 TIC}
 \addlegendimage{fill=mk2}\addlegendentry{AS49832 Rikeza Ltd}
 \addlegendimage{fill=mk3}\addlegendentry{AS200612 Gulf Bridge International Inc.}
 \addlegendimage{fill=mk4}\addlegendentry{AS6453 Tata Communications}
 \addlegendimage{fill=mk5}\addlegendentry{AS5511 Orange}
 \addlegendimage{fill=mk6}\addlegendentry{other}
\end{axis}

% ===== R3 =====
\begin{axis}[pan, at={(603pt,-413.85pt)}, width=520.8pt, height=45pt,
  xmin=0.177, xmax=7.287, days2, ymin=175, ymax=250, ytick={175,200,225,250}, yticklabels={175,200,225,250},
  ylabel={Latency}, ylabx=-0.0418]
 \addplot[latline] table[x=x,y=y]{\latRc};
 \node[oracle] at (axis description cs:0.463,0.572) {ORACLE};
\end{axis}
\begin{axis}[trax, at={(603pt,-478.65pt)}, width=520.8pt, height=50.85pt,
  xmin=0.177, xmax=7.287, days2, ymax=40, ytick={0,20,40}, yticklabels={0,20k,40k},
  ylabel={Traceroutes}, ylabx=-0.0418, legend style={at={(0.465,-0.396)}}]
 \ar{\trRc}{c6}{gc0}\ar{\trRc}{c5}{g6e}\ar{\trRc}{c4}{gd4}\ar{\trRc}{c3}{gc6}\ar{\trRc}{c2}{gab}\ar{\trRc}{c1}{ga6}
 \bl{\trRc}{c1}\bl{\trRc}{c2}\bl{\trRc}{c3}\bl{\trRc}{c4}\bl{\trRc}{c5}\bl{\trRc}{c6}
 \fill[hl] (axis cs:2.842,33.94) rectangle (axis cs:3.148,-8.53);
 \node[oracle] at (axis description cs:0.463,0.617) {ORACLE};
 \addlegendimage{fill=mk1}\addlegendentry{AS3320 Deutsche Telekom}
 \addlegendimage{fill=mk2}\addlegendentry{AS49832 Rikeza Ltd}
 \addlegendimage{fill=mk3}\addlegendentry{AS5511 Orange}
 \addlegendimage{fill=mk4}\addlegendentry{AS6453 Tata Communications}
 \addlegendimage{fill=mk5}\addlegendentry{AS48159 TIC}
 \addlegendimage{fill=mk6}\addlegendentry{other}
\end{axis}

% ===== L4 =====
\begin{axis}[pan, at={(63.4pt,-575.5pt)}, width=491.6pt, height=42.85pt,
  xmin=0.187, xmax=7.25, days2, ymin=150, ymax=300, ytick={150,200,250,300}, yticklabels={150,200,250,300},
  ylabel={Latency}, ylabx=-0.0462]
 \addplot[latline] table[x=x,y=y]{\latLd};
 \node[oracle] at (axis description cs:0.463,0.572) {ORACLE};
\end{axis}
\begin{axis}[trax, at={(63.4pt,-637.5pt)}, width=491.6pt, height=48pt,
  xmin=0.187, xmax=7.25, days2, ymax=1000, ytick={0,500,1000}, yticklabels={0,500,1000},
  ylabel={Traceroutes}, ylabx=-0.0462, legend style={at={(0.468,-0.399)}}]
 \ar{\trLd}{c6}{gbf}\ar{\trLd}{c5}{g6e}\ar{\trLd}{c4}{gd4}\ar{\trLd}{c3}{gc4}\ar{\trLd}{c2}{gac}\ar{\trLd}{c1}{g9a}
 \bl{\trLd}{c1}\bl{\trLd}{c2}\bl{\trLd}{c3}\bl{\trLd}{c4}\bl{\trLd}{c5}\bl{\trLd}{c6}
 \fill[hl] (axis cs:2.848,687.5) rectangle (axis cs:3.170,-232);
 \node[oracle] at (axis description cs:0.463,0.617) {ORACLE};
 \addlegendimage{fill=mk1}\addlegendentry{AS49832 Rikeza Ltd}
 \addlegendimage{fill=mk2}\addlegendentry{AS6762 Telecom Italia Sparkle}
 \addlegendimage{fill=mk3}\addlegendentry{AS200612 Gulf Bridge International Inc.}
 \addlegendimage{fill=mk4}\addlegendentry{AS6453 Tata Communications}
 \addlegendimage{fill=mk5}\addlegendentry{AS5511 Orange}
 \addlegendimage{fill=mk6}\addlegendentry{other}
\end{axis}

% ===== R4 =====
\begin{axis}[pan, at={(610.9pt,-594.65pt)}, width=513.05pt, height=44.2pt,
  xmin=0.181, xmax=7.3, days2, ymin=150, ymax=225, ytick={150,175,200,225}, yticklabels={150,175,200,225},
  ylabel={Latency}, ylabx=-0.0427, restrict x to domain=0.2:7.3]
 \addplot[latline] table[x=x,y=y]{\latRa};
 \node[oracle] at (axis description cs:0.463,0.572) {ORACLE};
\end{axis}
\begin{axis}[trax, at={(610.9pt,-659.5pt)}, width=513.05pt, height=49.35pt,
  xmin=0.181, xmax=7.3, days2, ymax=20, ytick={0,10,20}, yticklabels={0,10k,20k},
  ylabel={Traceroutes}, ylabx=-0.0427, restrict x to domain=0.2:7.3, legend style={at={(0.465,-0.401)}}]
 \ar{\trRa}{c5}{gbd}\ar{\trRa}{c4}{g6e}\ar{\trRa}{c3}{gd6}\ar{\trRa}{c2}{gc8}\ar{\trRa}{c1}{gac}
 \bl{\trRa}{c1}\bl{\trRa}{c2}\bl{\trRa}{c3}\bl{\trRa}{c4}\bl{\trRa}{c5}
 \fill[hl] (axis cs:2.851,17.63) rectangle (axis cs:3.160,-4.17);
 \node[oracle] at (axis description cs:0.463,0.617) {ORACLE};
 \addlegendimage{fill=mk1}\addlegendentry{AS6736 Research Center of Theoretical Physics \amp{} Mathematics (IPM)}
 \addlegendimage{fill=mk2}\addlegendentry{AS49832 Rikeza Ltd}
 \addlegendimage{fill=mk3}\addlegendentry{AS6453 Tata Communications}
 \addlegendimage{fill=mk4}\addlegendentry{AS5511 Orange}
 \addlegendimage{fill=mk6}\addlegendentry{other}
\end{axis}
\end{tikzpicture}
\end{document}
